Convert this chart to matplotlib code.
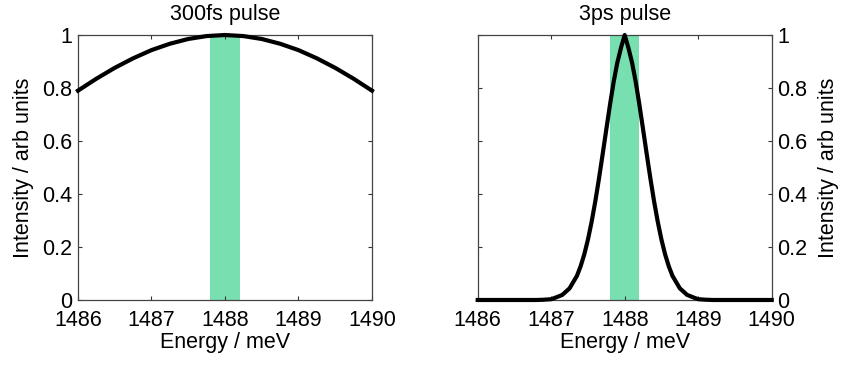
import matplotlib
matplotlib.use("Agg")
import matplotlib.pyplot as plt

plt.rcParams['font.family'] = ['Liberation Sans', 'DejaVu Sans']

# 300fs pulse: broad spectrum
e_fs = [1486.0, 1486.25, 1486.5, 1486.75, 1487.0, 1487.25, 1487.5, 1487.75, 1488.0,
        1488.25, 1488.5, 1488.75, 1489.0, 1489.25, 1489.5, 1489.75, 1490.0]
i_fs = [0.790, 0.835, 0.876, 0.912, 0.943, 0.967, 0.985, 0.996, 1.000,
        0.996, 0.985, 0.967, 0.943, 0.912, 0.876, 0.835, 0.790]

# 3ps pulse: narrow spectrum
e_ps = [1486.0, 1486.8, 1486.9, 1487.0, 1487.05, 1487.15, 1487.25, 1487.35, 1487.4,
        1487.45, 1487.5, 1487.55, 1487.6, 1487.65, 1487.7, 1487.75, 1487.8, 1487.85,
        1487.9, 1487.95, 1488.0, 1488.05, 1488.1, 1488.15, 1488.2, 1488.25, 1488.3,
        1488.35, 1488.4, 1488.45, 1488.5, 1488.55, 1488.6, 1488.65, 1488.75, 1488.85,
        1488.95, 1489.0, 1489.1, 1489.2, 1490.0]
i_ps = [0.0, 0.0, 0.001, 0.003, 0.008, 0.019, 0.044, 0.091, 0.127,
        0.172, 0.228, 0.295, 0.372, 0.458, 0.550, 0.644, 0.737, 0.823,
        0.896, 0.952, 1.000, 0.952, 0.896, 0.823, 0.737, 0.644, 0.550,
        0.458, 0.372, 0.295, 0.228, 0.172, 0.127, 0.091, 0.044, 0.019,
        0.008, 0.003, 0.001, 0.0, 0.0]

# detection window (green band)
band = (1487.8, 1488.2)

titles = ['300fs pulse', '3ps pulse']
xticks = [1486, 1487, 1488, 1489, 1490]
yticks = [0, 0.2, 0.4, 0.6, 0.8, 1]
yticklabels = ['0', '0.2', '0.4', '0.6', '0.8', '1']

fig = plt.figure(figsize=(8.41, 3.67), dpi=100)
ax1 = fig.add_axes([0.0927, 0.1826, 0.3496, 0.722])
ax2 = fig.add_axes([0.568, 0.1826, 0.3496, 0.722])

for ax, x, y, title in [(ax1, e_fs, i_fs, titles[0]), (ax2, e_ps, i_ps, titles[1])]:
    ax.axvspan(band[0], band[1], color='#78e0b0', lw=0, zorder=1)
    ax.plot(x, y, color='black', lw=3.0, zorder=3, clip_on=False,
            solid_joinstyle='round')
    ax.set_xlim(1486, 1490)
    ax.set_ylim(0, 1)
    ax.set_xticks(xticks)
    ax.set_yticks(yticks)
    ax.set_yticklabels(yticklabels)
    ax.tick_params(direction='in', length=3, width=0.8, labelsize=15.5, color='#333333',
                   top=True, right=True, left=True, bottom=True)
    ax.tick_params(axis='x', pad=7)
    ax.tick_params(axis='y', pad=4)
    for s in ax.spines.values():
        s.set_color('#444444')
        s.set_linewidth(0.9)
    ax.set_title(title, fontsize=15.5, pad=11)
    ax.set_xlabel('Energy / meV', fontsize=15.5, labelpad=1)
    ax.set_ylabel('Intensity / arb units', fontsize=15.5, labelpad=6)

ax2.yaxis.tick_right()
ax2.yaxis.set_label_position('right')
ax2.tick_params(left=True, right=True, labelleft=False, labelright=True)
ax2.set_ylabel('Intensity / arb units', fontsize=15.5, labelpad=8)

fig.savefig('out.png', dpi=100)
